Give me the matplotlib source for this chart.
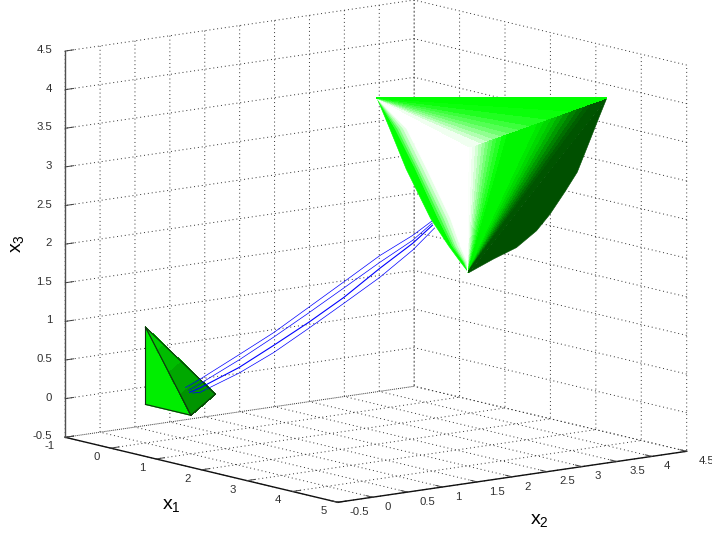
import matplotlib
matplotlib.use('Agg')
import matplotlib.pyplot as plt
from mpl_toolkits.mplot3d.art3d import Poly3DCollection

plt.rcParams['font.family'] = 'Liberation Sans'
plt.rcParams['mathtext.fontset'] = 'custom'
plt.rcParams['mathtext.rm'] = 'Liberation Sans'
plt.rcParams['axes.unicode_minus'] = False

# ticks
x1_ticks = [-1, 0, 1, 2, 3, 4, 5]
x2_ticks = [-0.5, 0, 0.5, 1, 1.5, 2, 2.5, 3, 3.5, 4, 4.5]
x3_ticks = [-0.5, 0, 0.5, 1, 1.5, 2, 2.5, 3, 3.5, 4, 4.5]
x1_labels = ['-1', '0', '1', '2', '3', '4', '5']
half_labels = ['-0.5', '0', '0.5', '1', '1.5', '2', '2.5', '3', '3.5', '4', '4.5']

# initial set
origin = (0, 0, 0)
e1 = (1, 0, 0)
e2 = (0, 1, 0)
e3 = (0, 0, 1)
side_split = [0, 0.25, 0.5, 0.75, 1]
side_colors = ['#00d000', '#00bc00', '#00a800', '#009400']

# trajectories
traj_x1 = [[0.65, 0.83, 1.32, 1.78, 2.25, 2.72, 3.21, 3.62, 3.88],
           [0.66, 0.79, 1.29, 1.74, 2.2, 2.69, 3.16, 3.59, 3.87],
           [0.65, 0.76, 1.24, 1.68, 2.14, 2.64, 3.11, 3.57, 3.86],
           [0.67, 0.74, 1.2, 1.64, 2.1, 2.57, 3.05, 3.52, 3.86]]
traj_x2 = [[0.15, 0.24, 0.47, 0.68, 0.88, 1.06, 1.27, 1.47, 1.58],
           [0.19, 0.26, 0.5, 0.7, 0.9, 1.11, 1.3, 1.49, 1.59],
           [0.21, 0.28, 0.53, 0.74, 0.95, 1.13, 1.33, 1.51, 1.6],
           [0.24, 0.3, 0.56, 0.77, 0.97, 1.18, 1.37, 1.54, 1.63]]
traj_x3 = [[0.29, 0.41, 0.76, 1.09, 1.46, 1.82, 2.21, 2.5, 2.71],
           [0.25, 0.34, 0.69, 1.02, 1.37, 1.75, 2.11, 2.43, 2.68],
           [0.22, 0.28, 0.58, 0.9, 1.24, 1.61, 2.02, 2.39, 2.65],
           [0.21, 0.22, 0.5, 0.8, 1.15, 1.52, 1.89, 2.29, 2.61]]

# reached set
top_left = (2.03, 1.99, 3.99)
top_right = (3.95, 4.03, 3.99)
bottom = (2.65, 2.9, 1.7)
front = (2.77, 2.84, 3.35)
front_low = (2.72, 2.8, 3.28)
rails = [
    [(2.11, 2.12, 3.59), (2.21, 2.29, 3.06), (2.38, 2.53, 2.41), (2.5, 2.71, 2.05), (2.59, 2.82, 1.84)],
    [(2.15, 2.17, 3.59), (2.29, 2.37, 3.06), (2.44, 2.6, 2.41), (2.53, 2.74, 2.05), (2.61, 2.85, 1.84)],
    [(2.175, 2.19, 3.59), (2.31, 2.39, 3.06), (2.465, 2.625, 2.41), (2.545, 2.755, 2.05), (2.62, 2.855, 1.84)],
    [(2.2, 2.21, 3.59), (2.33, 2.41, 3.06), (2.49, 2.65, 2.41), (2.56, 2.77, 2.05), (2.63, 2.86, 1.84)],
    [(2.225, 2.24, 3.59), (2.36, 2.44, 3.06), (2.515, 2.68, 2.41), (2.58, 2.79, 2.05), (2.64, 2.87, 1.84)],
    [(2.25, 2.27, 3.59), (2.39, 2.47, 3.06), (2.54, 2.71, 2.41), (2.6, 2.81, 2.05), (2.65, 2.88, 1.84)],
]
rail_colors = ['#00ff00', '#40ff40', '#80ff80', '#b8ffb8', '#e4ffe4']
right_rim = [front_low, front, (2.795, 2.87, 3.365), (2.82, 2.9, 3.38), (2.85, 2.93, 3.395), (2.88, 2.96, 3.41),
             (2.91, 2.99, 3.425), (2.94, 3.02, 3.44), (2.975, 3.055, 3.46), (3.01, 3.09, 3.48), (3.055, 3.135, 3.505),
             (3.1, 3.18, 3.53), (3.37, 3.45, 3.68), (3.43, 3.51, 3.71), (3.49, 3.57, 3.74), (3.545, 3.625, 3.77),
             (3.6, 3.68, 3.8), (3.66, 3.74, 3.83), (3.72, 3.8, 3.86), (3.78, 3.86, 3.895), (3.84, 3.92, 3.93),
             top_right]
right_colors = ['#ffffff', '#faFFfa', '#ecffec', '#d4ffd4', '#b6ffb6', '#98ff98', '#78ff78', '#5aff5a', '#3cff3c',
                '#24ff24', '#08ff08', '#00f600', '#00e800', '#00d800', '#00c700', '#00b100', '#009a00', '#008300',
                '#006f00', '#005e00', '#005400']
top_rim = [front, (2.868, 2.939, 3.403), (2.92, 2.99, 3.431), (2.974, 3.046, 3.461), (3.04, 3.113, 3.497),
           (3.11, 3.18, 3.534), (3.196, 3.27, 3.581), (3.288, 3.362, 3.631), (3.444, 3.519, 3.715),
           (3.636, 3.713, 3.82), top_right]
top_colors = ['#f0fff0', '#d0ffd0', '#b0ffb0', '#90ff90', '#70ff70', '#54ff54', '#3cff3c', '#20ff20', '#0aff0a',
              '#00ff00']
dark_edge = [(3.86, 3.97, 3.72), (3.74, 3.88, 3.33), (3.64, 3.81, 3.02), (3.52, 3.71, 2.76), (3.38, 3.59, 2.47),
             (3.25, 3.48, 2.25), (3.07, 3.31, 2.03), (2.87, 3.11, 1.88)]


def add_polys(polys, colors, order):
    coll = Poly3DCollection(polys, facecolors=colors, edgecolors=colors, linewidths=0.4, zorder=order)
    coll.set_antialiased(False)
    ax.add_collection3d(coll)


fig = plt.figure(figsize=(7.12, 5.35), dpi=100)
ax = fig.add_axes([12.7/712, 9.1/535, 1, 1], projection='3d', proj_type='ortho', computed_zorder=False)
ax.view_init(elev=10.76, azim=-38.05)
ax.set_box_aspect((442, 443, 393), zoom=1.3414)
ax.set_xlim(-1, 5, view_margin=0)
ax.set_ylim(-0.5, 4.5, view_margin=0)
ax.set_zlim(-0.5, 4.5, view_margin=0)
ax.set_xticks(x1_ticks)
ax.set_yticks(x2_ticks)
ax.set_zticks(x3_ticks)
for axis in (ax.xaxis, ax.yaxis, ax.zaxis):
    axis.set_pane_color((1, 1, 1, 0))
    axis.pane.set_edgecolor('none')
    axis.line.set_color('#101010')
    axis.line.set_linewidth(1.0)
    axis._axinfo['grid'].update(color='#303030', linewidth=0.7, linestyle=(0, (1, 3)))
    axis._axinfo['tick'].update(inward_factor=0.0, outward_factor=0.3)
    axis._axinfo['tick']['linewidth'] = {True: 0.7, False: 0.7}
    axis.set_rotate_label(False)
ax.zaxis.line.set_color('#505050')
ax.zaxis.set_ticks_position('lower')
ax.zaxis.set_label_position('lower')
ax.tick_params(colors='#404040', label1On=False, label2On=False)

ax.set_xlabel(r'$\mathrm{x}_1$', fontsize=14, labelpad=-4, rotation=0)
ax.set_ylabel(r'$\mathrm{x}_2$', fontsize=14, labelpad=-1, rotation=0)
ax.set_zlabel(r'$\mathrm{x}_3$', fontsize=14, labelpad=-6, rotation=90)

# tick labels
for t, s in zip(x1_ticks, x1_labels):
    ax.text(t, -0.658, -0.596, s, fontsize=8.2, color='#303030', ha='right', va='center')
for t, s in zip(x2_ticks, half_labels):
    ax.text(5.27, t, -0.589, s, fontsize=8.2, color='#303030', ha='left', va='center')
for t, s in zip(x3_ticks, half_labels):
    ax.text(-1, -0.686, t + 0.038, s, fontsize=8.2, color='#303030', ha='right', va='center')

# initial set
add_polys([[e3, origin, e1]], ['#00ee00'], 2)
side = []
for a, b in zip(side_split[:-1], side_split[1:]):
    side.append([(a, 0, 1 - a), (0, a, 1 - a), (0, b, 1 - b), (b, 0, 1 - b)])
add_polys(side, side_colors, 2)
for p, q in [(e3, origin), (origin, e1), (e1, e3), (e1, e2), (e2, e3)]:
    ax.plot(*zip(p, q), color='#103010', lw=0.8, zorder=2.5)

# trajectories
for i in range(4):
    ax.plot(traj_x1[i], traj_x2[i], traj_x3[i], color='blue', lw=0.8 if i == 2 else 0.5, zorder=3)

# reached set
left_rails = [[top_left] + rail + [bottom] for rail in rails]
for i in range(len(rail_colors)):
    add_polys([left_rails[i] + left_rails[i + 1][::-1]], [rail_colors[i]], 4)
add_polys([left_rails[-1] + [front_low, front]], ['#ffffff'], 4)
fan = [[bottom, right_rim[i], right_rim[i + 1]] for i in range(len(right_rim) - 1)]
add_polys(fan, right_colors, 5)
add_polys([[bottom, top_right] + dark_edge], ['#005000'], 4)
fan = [[top_left, top_rim[i], top_rim[i + 1]] for i in range(len(top_rim) - 1)]
add_polys(fan, top_colors, 6)

# no empty leftovers of the native labels
for t in ax.findobj(matplotlib.text.Text):
    if not t.get_text():
        t.set_visible(False)

fig.savefig('out.png', dpi=100)
